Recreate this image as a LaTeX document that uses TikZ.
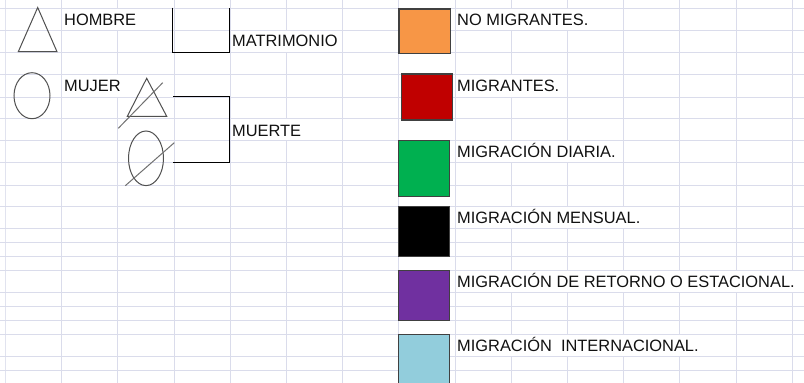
\documentclass[tikz,border=0pt]{standalone}
\usepackage{fontspec}
\setmainfont{Liberation Sans}
\definecolor{gridc}{HTML}{DADCEB}
\definecolor{txt}{HTML}{111111}
\definecolor{symc}{HTML}{505050}
\definecolor{slashc}{HTML}{707070}
\definecolor{swb}{HTML}{404040}
\definecolor{cOrange}{HTML}{F79646}
\definecolor{cRed}{HTML}{C00000}
\definecolor{cGreen}{HTML}{00B050}
\definecolor{cPurple}{HTML}{7030A0}
\definecolor{cBlue}{HTML}{92CDDC}
\begin{document}
\begin{tikzpicture}[x=1pt,y=-1pt,
  gridline/.style={draw=gridc,line width=0.9pt},
  lbl/.style={anchor=base west,inner sep=0pt,font=\fontsize{16.4}{19}\selectfont,text=txt},
  sym/.style={draw=symc,line width=1pt},
  slash/.style={draw=slashc,line width=1pt},
  brk/.style={draw=black,line width=1.4pt},
  swatch/.style={draw=swb,line width=1.2pt},
  cover/.style={fill=white,draw=none}]
\clip (0,0) rectangle (804,383);
\fill[white] (0,0) rectangle (804,383);
% spreadsheet grid
\foreach \k in {0,...,14} \draw[gridline] ({5.5+56.2*\k},0) -- ({5.5+56.2*\k},383);
\draw[draw=gridc!80,line width=1.6pt] (5.5,0) -- (5.5,383);
\foreach \yy in {8,30,52,74,97,118,140,162,185,206,228,242,256,270,292,306,320,334,356,370}
  \draw[gridline] (0,\yy) -- (804,\yy);
% text cells overflowing (grid hidden)
\path[cover] (62.3,8.5) rectangle (173.5,29.5);
\path[cover] (62.3,74.5) rectangle (173.5,96.5);
\path[cover] (230.8,30.5) rectangle (342.2,51.5);
\path[cover] (230.8,118.5) rectangle (342.2,139.5);
\path[cover] (455.6,8.5) rectangle (623.2,29.5);
\path[cover] (455.6,74.5) rectangle (567.0,96.5);
\path[cover] (455.6,140.5) rectangle (623.2,161.5);
\path[cover] (455.6,206.5) rectangle (679.4,227.5);
\path[cover] (455.6,270.5) rectangle (804,291.5);
\path[cover] (455.6,334.5) rectangle (735.6,355.5);
% symbols
\draw[sym] (37.7,7.5) -- (18.3,51.7) -- (57,51.7) -- cycle;
\draw[sym] (32,95.7) ellipse [x radius=18, y radius=23];
\draw[sym] (146.7,78.3) -- (127.3,116.3) -- (166.7,116.3) -- cycle;
\draw[slash] (118.3,128.3) -- (162.7,82.7);
\draw[sym] (146,158.3) ellipse [x radius=17.5, y radius=27.3];
\draw[slash] (125.3,185.7) -- (174.3,142.7);
% brackets
\coordinate (m1) at (172.7,7.5);
\coordinate (m2) at (172.7,52.3);
\coordinate (m3) at (229.3,52.3);
\coordinate (m4) at (229.3,7.5);
\draw[brk] (m1) -- (m2) -- (m3) -- (m4);
\coordinate (d1) at (173,96.3);
\coordinate (d2) at (229.3,96.3);
\coordinate (d3) at (229.3,162.7);
\coordinate (d4) at (173,162.7);
\draw[brk] (d1) -- (d2) -- (d3) -- (d4);
% colour swatches
\draw[swatch,fill=cOrange] (399,9) rectangle (450.7,53.7);
\draw[swatch,fill=cRed] (401.7,74) rectangle (452.7,120);
\draw[swatch,fill=cGreen] (398.3,140.3) rectangle (449.3,196.7);
\draw[swatch,fill=black] (398.3,206.7) rectangle (449.7,256.7);
\draw[swatch,fill=cPurple] (398.3,270.7) rectangle (449.7,320.7);
\draw[swatch,fill=cBlue] (398.3,334.3) rectangle (449.3,392);
% labels
\node[lbl] (hombre) at (64,25.7) {HOMBRE};
\node[lbl] (mujer) at (64,91.7) {MUJER};
\node[lbl] (matri) at (232,46.7) {MATRIMONIO};
\node[lbl] (muerte) at (232,136) {MUERTE};
\node[lbl] (nomig) at (457,25.7) {NO MIGRANTES.};
\node[lbl] (mig) at (457,91.7) {MIGRANTES.};
\node[lbl] (diaria) at (457,157.3) {MIGRACIÓN DIARIA.};
\node[lbl] (mensual) at (457,223.3) {MIGRACIÓN MENSUAL.};
\node[lbl] (retorno) at (457,287.3) {MIGRACIÓN DE RETORNO O ESTACIONAL.};
\node[lbl] (inter) at (457,351.7) {MIGRACIÓN\ \ INTERNACIONAL.};
\end{tikzpicture}
\end{document}
